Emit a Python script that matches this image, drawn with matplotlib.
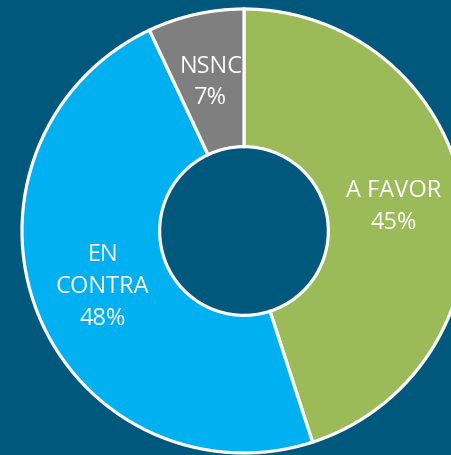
import numpy as np
import matplotlib.pyplot as plt

# datos de la encuesta
labels = ['A FAVOR', 'EN\nCONTRA', 'NSNC']
values = [45, 48, 7]
colors = ['#9BBB59', '#00B0F0', '#7F7F7F']
bg = '#00587C'

fig = plt.figure(figsize=(4.52, 4.55), dpi=100, facecolor=bg)
ax = fig.add_axes([0, 0, 1, 1])
ax.set_facecolor(bg)

wedges, _ = ax.pie(values, colors=colors, startangle=90, counterclock=False,
                   radius=1.0,
                   wedgeprops=dict(width=0.62, edgecolor='white', linewidth=2.3))

# etiquetas centradas en el anillo
r_lab = 0.685
for w, lab, v in zip(wedges, labels, values):
    ang = np.deg2rad((w.theta1 + w.theta2) / 2)
    ax.text(r_lab * np.cos(ang), r_lab * np.sin(ang), f'{lab}\n{v}%',
            ha='center', va='center', color='white', fontsize=17,
            family='Open Sans', linespacing=1.42)

ax.set_xlim(-1.099, 0.937)
ax.set_ylim(-1.009, 1.0405)
ax.set_aspect('equal')
ax.axis('off')

fig.savefig('out.png', dpi=100, facecolor=bg)
